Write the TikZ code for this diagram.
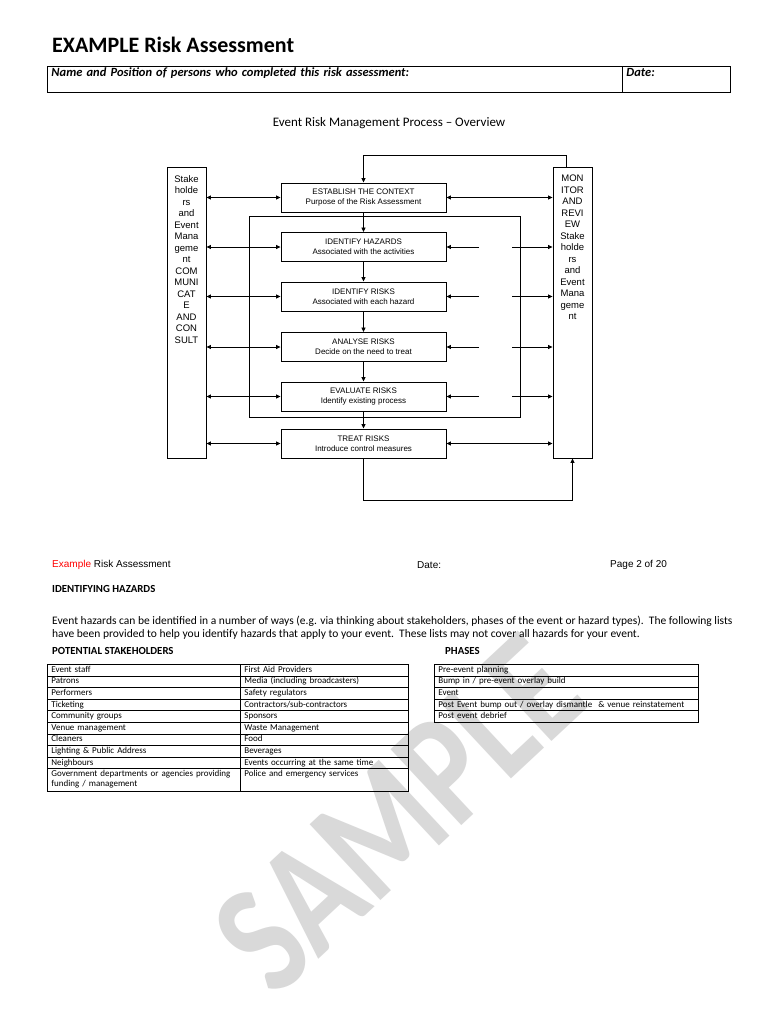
\documentclass[tikz,border=0pt]{standalone}
\usepackage{fontspec}
\setmainfont{Carlito}
\newfontfamily\arialfont{Liberation Sans}
\usepackage{xcolor}
\usepackage{tikz}
\usetikzlibrary{arrows.meta, positioning}

\begin{document}
\begin{tikzpicture}[x=1pt, y=-1pt,
    proc/.style={draw, rectangle, minimum width=165pt, minimum height=29pt, inner sep=0pt, align=center, line width=0.9pt, font=\arialfont\fontsize{8}{10}\selectfont},
    side/.style={draw, rectangle, minimum width=39pt, minimum height=291pt, line width=0.9pt},
    sidetext/.style={anchor=north, yshift=-8.5pt, inner sep=0pt, align=center, font=\arialfont\fontsize{9.5}{11.5}\selectfont},
    arrow/.style={-{Stealth[length=4.5pt, width=4pt, inset=0pt]}, line width=0.8pt},
    dbl/.style={{Stealth[length=4.5pt, width=4pt, inset=0pt]}-{Stealth[length=4.5pt, width=4pt, inset=0pt]}, line width=0.8pt},
    hcell/.style={draw, anchor=north west, inner xsep=4pt, inner ysep=1pt, text height=9pt, text depth=15pt, align=left, line width=0.9pt, font=\bfseries\itshape\fontsize{12.5}{14}\selectfont},
    tcell/.style={draw, anchor=north west, minimum height=11.6pt, inner xsep=4pt, inner ysep=0pt, text height=6.5pt, text depth=2.5pt, align=left, line width=0.8pt, font=\fontsize{9}{10.3}\selectfont},
    lastrow/.style={minimum height=22.6pt, text height=7pt, text depth=15pt},
    head/.style={anchor=west, inner sep=0pt, font=\bfseries\fontsize{10.8}{12.7}\selectfont},
    body/.style={anchor=west, inner sep=0pt, font=\fontsize{11.5}{12.7}\selectfont},
    foot/.style={anchor=west, inner sep=0pt, font=\arialfont\fontsize{10}{12}\selectfont},
    wmark/.style={rotate=43, text=black!15, inner sep=0pt, font=\bfseries\fontsize{160}{160}\selectfont}
]
\useasboundingbox (0,0) rectangle (768,1024);
\fill[white] (0,0) rectangle (768,1024);

% watermark
\node[wmark] (sample) at (398,814) {\scalebox{0.8}[1]{SAMPLE}};

% page header
\node[anchor=base west, inner sep=0pt, font=\bfseries\fontsize{22}{26}\selectfont] (title) at (52,53) {EXAMPLE Risk Assessment};
\node[hcell, text width=567pt] (namecell) at (47,66) {Name and Position of persons who completed this risk assessment:};
\node[hcell, text width=100pt] (datecell) at (622,66) {Date:};

\node[inner sep=0pt, font=\fontsize{13}{15}\selectfont] (overview) at (389,123) {Event Risk Management Process -- Overview};

% side boxes
\node[side] (sl) at (186.5,312.5) {};
\node[sidetext] (sltext) at (sl.north) {Stake\\holde\\rs\\and\\Event\\Mana\\geme\\nt\\COM\\MUNI\\CAT\\E\\AND\\CON\\SULT};
\node[side] (sr) at (572.5,312.5) {};
\node[sidetext] (srtext) at (sr.north) {MON\\ITOR\\AND\\REVI\\EW\\Stake\\holde\\rs\\and\\Event\\Mana\\geme\\nt};

% process steps
\node[proc] (est) at (363.5,197.5) {ESTABLISH THE CONTEXT\\Purpose of the Risk Assessment};
\node[proc] (hz) at (363.5,247) {IDENTIFY HAZARDS\\Associated with the activities};
\node[proc] (rk) at (363.5,296.5) {IDENTIFY RISKS\\Associated with each hazard};
\node[proc] (an) at (363.5,347) {ANALYSE RISKS\\Decide on the need to treat};
\node[proc] (ev) at (363.5,396.5) {EVALUATE RISKS\\Identify existing process};
\node[proc] (tr) at (363.5,443.5) {TREAT RISKS\\Introduce control measures};

\draw[line width=0.9pt] (249,216) rectangle (520,417);

\draw[arrow] (est) -- (hz);
\draw[arrow] (hz) -- (rk);
\draw[arrow] (rk) -- (an);
\draw[arrow] (an) -- (ev);
\draw[arrow] (ev) -- (tr);

% communicate and consult
\draw[dbl] (sl.east |- est.west) -- (est.west);
\draw[dbl] (sl.east |- hz.west) -- (hz.west);
\draw[dbl] (sl.east |- rk.west) -- (rk.west);
\draw[dbl] (sl.east |- an.west) -- (an.west);
\draw[dbl] (sl.east |- ev.west) -- (ev.west);
\draw[dbl] (sl.east |- tr.west) -- (tr.west);

% monitor and review
\coordinate (gapL) at (479,0);
\coordinate (gapR) at (512,0);
\draw[dbl] (est.east) -- (est.east -| sr.west);
\draw[arrow] (hz.east -| gapL) -- (hz.east);
\draw[arrow] (hz.east -| gapR) -- (hz.east -| sr.west);
\draw[arrow] (rk.east -| gapL) -- (rk.east);
\draw[arrow] (rk.east -| gapR) -- (rk.east -| sr.west);
\draw[arrow] (an.east -| gapL) -- (an.east);
\draw[arrow] (an.east -| gapR) -- (an.east -| sr.west);
\draw[arrow] (ev.east -| gapL) -- (ev.east);
\draw[arrow] (ev.east -| gapR) -- (ev.east -| sr.west);
\draw[dbl] (tr.east) -- (tr.east -| sr.west);

\coordinate (loopT) at (566,155);
\coordinate (loopB) at (0,500);
\draw[arrow] (loopT |- sr.north) -- (loopT) -| (est.north);
\draw[arrow] (tr.south) -- (tr.south |- loopB) -| (sr.south);

% page footer
\node[foot] (footer) at (52,565) {\textcolor{red}{Example} Risk Assessment};
\node[foot] (footdate) at (417,565) {Date:};
\node[foot] (footpage) at (610,565) {Page 2 of 20};

% identifying hazards
\node[head] (idhaz) at (52,589) {IDENTIFYING HAZARDS};
\node[body] (para1) at (52,621.7) {Event hazards can be identified in a number of ways (e.g. via thinking about stakeholders, phases of the event or hazard types).\ \ The following lists};
\node[body] (para2) at (52,634.3) {have been provided to help you identify hazards that apply to your event.\ \ These lists may not cover all hazards for your event.};

\node[head] (stakehead) at (52,651) {POTENTIAL STAKEHOLDERS};
\node[head] (phasehead) at (445,651) {PHASES};

% stakeholders table
\node[tcell, text width=185pt] (s1) at (47,664) {Event staff};
\node[tcell, text width=185pt] (s2) at (47,675.6) {Patrons};
\node[tcell, text width=185pt] (s3) at (47,687.2) {Performers};
\node[tcell, text width=185pt] (s4) at (47,698.8) {Ticketing};
\node[tcell, text width=185pt] (s5) at (47,710.4) {Community groups};
\node[tcell, text width=185pt] (s6) at (47,722) {Venue management};
\node[tcell, text width=185pt] (s7) at (47,733.6) {Cleaners};
\node[tcell, text width=185pt] (s8) at (47,745.2) {Lighting \& Public Address};
\node[tcell, text width=185pt] (s9) at (47,756.8) {Neighbours};
\node[tcell, lastrow, text width=185pt] (s10) at (47,768.4) {\makebox[181pt][s]{Government departments or agencies providing}\\funding / management};

\node[tcell, text width=160pt] (t1) at (240,664) {First Aid Providers};
\node[tcell, text width=160pt] (t2) at (240,675.6) {Media (including broadcasters)};
\node[tcell, text width=160pt] (t3) at (240,687.2) {Safety regulators};
\node[tcell, text width=160pt] (t4) at (240,698.8) {Contractors/sub-contractors};
\node[tcell, text width=160pt] (t5) at (240,710.4) {Sponsors};
\node[tcell, text width=160pt] (t6) at (240,722) {Waste Management};
\node[tcell, text width=160pt] (t7) at (240,733.6) {Food};
\node[tcell, text width=160pt] (t8) at (240,745.2) {Beverages};
\node[tcell, text width=160pt] (t9) at (240,756.8) {Events occurring at the same time};
\node[tcell, lastrow, text width=160pt] (t10) at (240,768.4) {Police and emergency services};

% phases table
\node[tcell, text width=256pt] (p1) at (434,664) {Pre-event planning};
\node[tcell, text width=256pt] (p2) at (434,675.6) {Bump in / pre-event overlay build};
\node[tcell, text width=256pt] (p3) at (434,687.2) {Event};
\node[tcell, text width=256pt] (p4) at (434,698.8) {Post Event bump out / overlay dismantle\ \ \& venue reinstatement};
\node[tcell, text width=256pt] (p5) at (434,710.4) {Post event debrief};

\end{tikzpicture}
\end{document}
